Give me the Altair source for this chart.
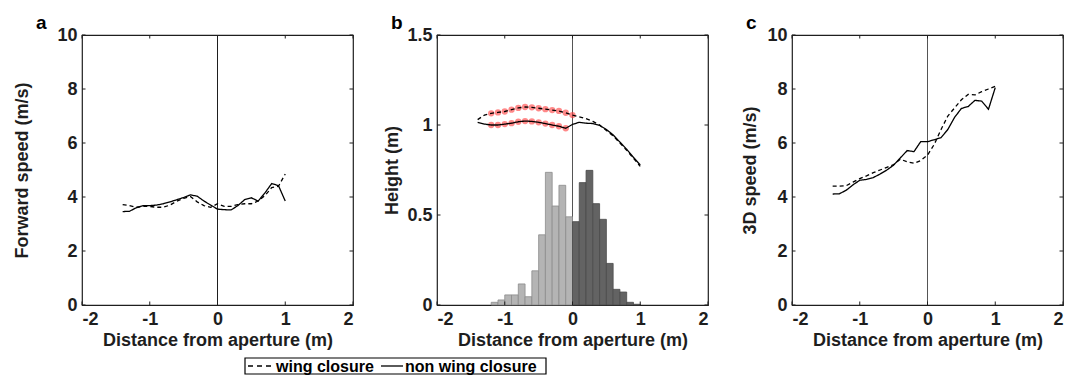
import altair as alt
import pandas as pd

# ---------------- data ----------------
DIST = [-1.4, -1.3, -1.2, -1.1, -1.0, -0.9, -0.8, -0.7, -0.6, -0.5, -0.4, -0.3, -0.2,
        -0.1, 0.0, 0.1, 0.2, 0.3, 0.4, 0.5, 0.6, 0.7, 0.8, 0.9, 1.0]

FWD_WING = [3.72, 3.68, 3.62, 3.65, 3.65, 3.62, 3.62, 3.70, 3.85, 3.95, 4.02, 3.82, 3.68,
            3.62, 3.75, 3.65, 3.65, 3.72, 3.75, 3.75, 3.85, 4.05, 4.35, 4.40, 4.85]
FWD_NON = [3.46, 3.47, 3.60, 3.68, 3.68, 3.70, 3.75, 3.82, 3.90, 3.98, 4.08, 4.03, 3.85,
           3.70, 3.55, 3.53, 3.52, 3.68, 3.90, 3.97, 3.85, 4.15, 4.50, 4.42, 3.85]

HGT_WING = [1.030, 1.055, 1.065, 1.070, 1.075, 1.085, 1.095, 1.100, 1.098, 1.093, 1.088, 1.083, 1.078,
            1.068, 1.055, 1.045, 1.035, 1.020, 1.000, 0.970, 0.940, 0.900, 0.860, 0.815, 0.770]
HGT_NON = [1.015, 1.005, 1.000, 1.000, 1.005, 1.010, 1.018, 1.022, 1.020, 1.015, 1.008, 1.000, 0.993,
           0.982, 1.003, 1.015, 1.010, 1.008, 0.998, 0.975, 0.945, 0.905, 0.865, 0.820, 0.778]

SPD3_WING = [4.40, 4.40, 4.42, 4.55, 4.68, 4.78, 4.90, 5.00, 5.10, 5.20, 5.40, 5.30, 5.25,
             5.35, 5.55, 5.95, 6.50, 7.00, 7.30, 7.60, 7.80, 7.78, 7.90, 8.00, 8.10]
SPD3_NON = [4.11, 4.12, 4.25, 4.45, 4.62, 4.65, 4.72, 4.85, 5.00, 5.18, 5.45, 5.72, 5.68,
            6.05, 6.05, 6.12, 6.20, 6.50, 6.95, 7.28, 7.35, 7.58, 7.55, 7.25, 8.05]

# histogram of wing closure positions (bin start, height), bin width 0.1
HIST_BEFORE_START = [-1.2, -1.1, -1.0, -0.9, -0.8, -0.7, -0.6, -0.5, -0.4, -0.3, -0.2, -0.1]
HIST_BEFORE = [0.015, 0.028, 0.056, 0.056, 0.117, 0.046, 0.19, 0.39, 0.737, 0.55, 0.665, 0.49]
HIST_AFTER_START = [0.0, 0.1, 0.2, 0.3, 0.4, 0.5, 0.6, 0.7, 0.8, 0.9]
HIST_AFTER = [0.463, 0.68, 0.748, 0.563, 0.476, 0.231, 0.087, 0.072, 0.015, 0.004]
BIN_WIDTH = 0.1

# highlighted (significant) stretches in panel b
MARK_WING_X = [-1.2, -1.1, -1.0, -0.9, -0.8, -0.7, -0.6, -0.5, -0.4, -0.3, -0.2, -0.1, 0.0]
MARK_NON_X = [-1.2, -1.1, -1.0, -0.9, -0.8, -0.7, -0.6, -0.5, -0.4, -0.3, -0.2, -0.1]

SERIES = ["wing closure", "non wing closure"]
X_TICKS = [-2, -1, 0, 1, 2]

# ---------------- styling ----------------
FONT = "Liberation Sans"
INK = "#1e1e1e"
W, H = 271, 270
TICK = 3.5


def long_table(wing, non):
    return pd.DataFrame({
        "x": DIST + DIST,
        "y": list(wing) + list(non),
        "series": [SERIES[0]] * len(DIST) + [SERIES[1]] * len(DIST),
    })


x_scale = alt.Scale(domain=[-2, 2], nice=False, zero=False)
x_axis = alt.Axis(values=X_TICKS, title="Distance from aperture (m)",
                  labelExpr="datum.value < 0 ? '-' + abs(datum.value) : '' + datum.value",
                  labelPadding=5, titlePadding=3)
dash_scale = alt.Scale(domain=SERIES, range=[[4, 3], [1, 0]])


def panel(letter, df, ymax, yticks, ytitle, title_pad, vline_color, extra=None):
    y_scale = alt.Scale(domain=[0, ymax], nice=False, zero=True)
    y_axis = alt.Axis(values=yticks, title=ytitle, labelExpr="'' + datum.value",
                      labelPadding=5, titlePadding=title_pad)
    X = alt.X("x:Q", scale=x_scale, axis=x_axis)
    Y = alt.Y("y:Q", scale=y_scale, axis=y_axis)

    layers = []
    vline = alt.Chart(pd.DataFrame({"x": [0]})).mark_rule(color=vline_color, strokeWidth=1).encode(
        x=X, y=alt.value(0), y2=alt.value(H))
    layers.append(vline)
    if extra is not None:
        layers.extend(extra(X, Y))

    lines = alt.Chart(df).mark_line(color="black", strokeWidth=1.3).encode(
        x=X, y=Y,
        strokeDash=alt.StrokeDash("series:N", scale=dash_scale, sort=SERIES, legend=None),
    )
    layers.append(lines)

    # inward ticks (MATLAB style) on all four sides
    xt = pd.DataFrame({"x": X_TICKS})
    yt = pd.DataFrame({"y": yticks})
    layers.append(alt.Chart(xt).mark_rule(color=INK).encode(x=X, y=alt.value(H - TICK), y2=alt.value(H)))
    layers.append(alt.Chart(xt).mark_rule(color=INK).encode(x=X, y=alt.value(0), y2=alt.value(TICK)))
    layers.append(alt.Chart(yt).mark_rule(color=INK).encode(y=Y, x=alt.value(0), x2=alt.value(TICK)))
    layers.append(alt.Chart(yt).mark_rule(color=INK).encode(y=Y, x=alt.value(W - TICK), x2=alt.value(W)))

    return alt.layer(*layers).properties(
        width=W, height=H,
        title=alt.TitleParams(letter, anchor="start", frame="group", dx=-46, offset=-7,
                              fontSize=19, fontWeight="bold", font=FONT, color="black"),
    )


def hist_layers(X, Y):
    before = pd.DataFrame({"x": HIST_BEFORE_START,
                           "x2": [v + BIN_WIDTH for v in HIST_BEFORE_START],
                           "y": HIST_BEFORE})
    after = pd.DataFrame({"x": HIST_AFTER_START,
                          "x2": [v + BIN_WIDTH for v in HIST_AFTER_START],
                          "y": HIST_AFTER})
    b1 = alt.Chart(before).mark_bar(fill="#b4b4b4", stroke="#8c8c8c", strokeWidth=0.8).encode(
        x=X, x2="x2:Q", y=Y, y2=alt.datum(0))
    b2 = alt.Chart(after).mark_bar(fill="#636363", stroke="#4a4a4a", strokeWidth=0.8).encode(
        x=X, x2="x2:Q", y=Y, y2=alt.datum(0))
    return [b1, b2]


def legend_layers():
    # shared legend box drawn below the middle panel (pixel offsets from panel b's plot area)
    one = pd.DataFrame({"k": [0]})
    box = alt.Chart(one).mark_rect(
        fill="white", stroke="black", strokeWidth=1.2).encode(
        x=alt.value(-192), x2=alt.value(109), y=alt.value(323), y2=alt.value(339))
    dash = alt.Chart(one).mark_rule(
        color="black", strokeWidth=1.3, strokeDash=[5, 4]).encode(
        x=alt.value(-189), x2=alt.value(-165), y=alt.value(331))
    solid = alt.Chart(one).mark_rule(
        color="black", strokeWidth=1.3).encode(
        x=alt.value(-56), x2=alt.value(-34), y=alt.value(331))
    t1 = alt.Chart(one).mark_text(
        text=SERIES[0], align="left", baseline="middle", font=FONT, fontSize=16,
        fontWeight="bold", color="black").encode(x=alt.value(-161), y=alt.value(331.5))
    t2 = alt.Chart(one).mark_text(
        text=SERIES[1], align="left", baseline="middle", font=FONT, fontSize=16,
        fontWeight="bold", color="black").encode(x=alt.value(-32), y=alt.value(331.5))
    return [box, dash, solid, t1, t2]


hgt = long_table(HGT_WING, HGT_NON)
mk_w = hgt[(hgt.series == SERIES[0]) & (hgt.x.round(2).isin(MARK_WING_X))]
mk_n = hgt[(hgt.series == SERIES[1]) & (hgt.x.round(2).isin(MARK_NON_X))]
markers = pd.concat([mk_w, mk_n])


def height_extra(X, Y):
    pts = alt.Chart(markers).mark_circle(color="#ff4040", opacity=0.62, size=40).encode(x=X, y=Y)
    return hist_layers(X, Y) + [pts] + legend_layers()


pa = panel("a", long_table(FWD_WING, FWD_NON), 10, [0, 2, 4, 6, 8, 10],
           "Forward speed (m/s)", 25, INK)
pb = panel("b", hgt, 1.5, [0, 0.5, 1, 1.5], "Height (m)", 5, "#555555",
           extra=height_extra)
pc = panel("c", long_table(SPD3_WING, SPD3_NON), 10, [0, 2, 4, 6, 8, 10],
           "3D speed (m/s)", 7, "#555555")

chart = alt.hconcat(pa, pb, pc, spacing=84, bounds="flush").configure_view(
    stroke=INK, strokeWidth=1.2
).configure_axis(
    domain=False, ticks=False, grid=False,
    labelFont=FONT, labelFontSize=18, labelFontWeight="bold", labelColor=INK,
    titleFont=FONT, titleFontSize=18, titleFontWeight="bold", titleColor=INK,
).properties(padding=5)

chart.save("out.html", embed_options={"renderer": "svg", "actions": False})
